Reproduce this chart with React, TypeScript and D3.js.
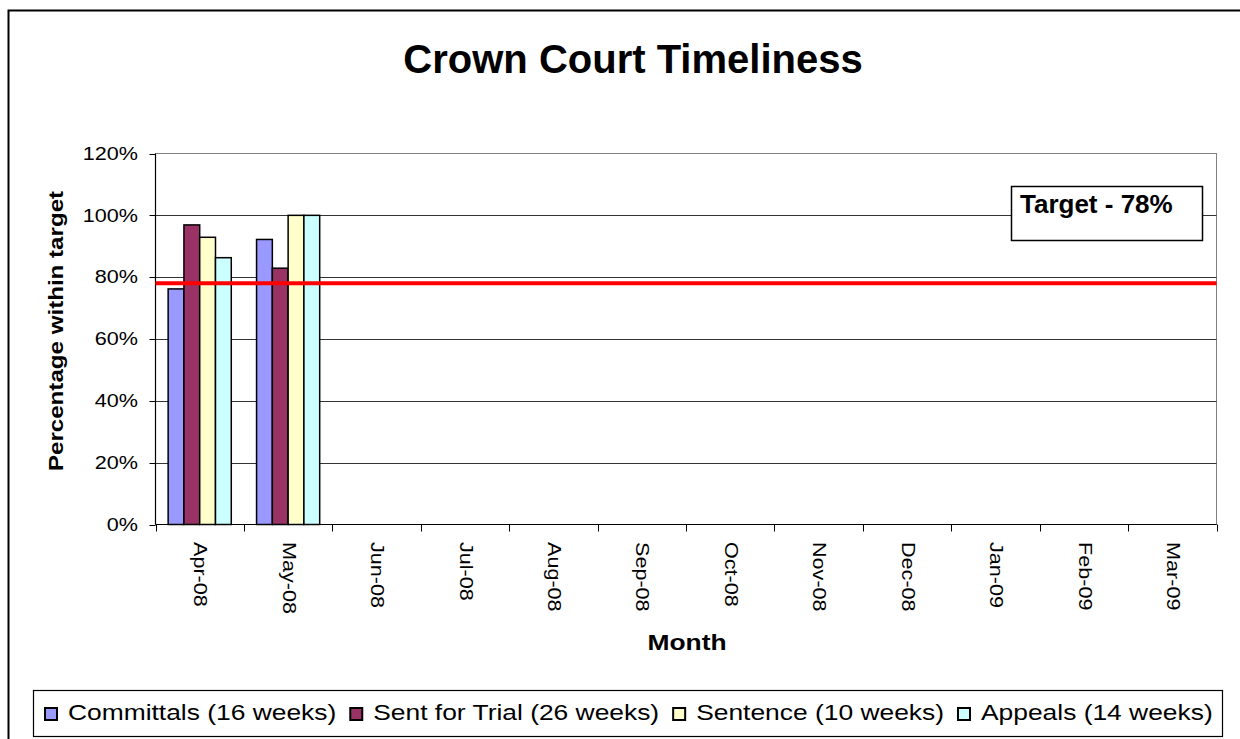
import React, { useEffect, useRef } from "react";
import * as d3 from "d3";

const months = ["Apr-08", "May-08", "Jun-08", "Jul-08", "Aug-08", "Sep-08", "Oct-08", "Nov-08", "Dec-08", "Jan-09", "Feb-09", "Mar-09"];
const seriesNames = ["Committals (16 weeks)", "Sent for Trial (26 weeks)", "Sentence (10 weeks)", "Appeals (14 weeks)"];
const seriesColors = ["#9999FF", "#993366", "#FFFFCC", "#CCFFFF"];
const committals = [0.762, 0.922];
const sentForTrial = [0.969, 0.829];
const sentence = [0.929, 1.0];
const appeals = [0.863, 1.0];
const yTicks = [0, 0.2, 0.4, 0.6, 0.8, 1.0, 1.2];
const target = 0.78;

const App = () => {
  const svgRef = useRef<SVGSVGElement | null>(null);

  useEffect(() => {
    if (!svgRef.current) return;
    const svg = d3.select(svgRef.current);
    svg.selectAll("*").remove();
    const font = "'Liberation Sans', Arial, sans-serif";
    const stretch = 1.2; // the reference text is drawn a bit wide

    svg.append("rect").attr("width", 1240).attr("height", 739).attr("fill", "#fff");
    // outer chart border (right and bottom edges fall outside the picture)
    svg.append("path")
      .attr("d", "M8.5,745 L8.5,10.5 L1245,10.5")
      .attr("fill", "none").attr("stroke", "#000").attr("stroke-width", 2);

    const left = 155.5, right = 1216.5, top = 153.5, bottom = 524.5;
    const x = d3.scaleBand<string>().domain(months).range([left, right]);
    const y = d3.scaleLinear().domain([0, 1.2]).range([bottom, top]);

    const all = [committals, sentForTrial, sentence, appeals];
    const bw = x.bandwidth();
    const inner = d3.scaleBand<number>().domain([0, 1, 2, 3]).range([bw * 0.143, bw * 0.857]);

    // plot border
    svg.append("rect")
      .attr("x", left).attr("y", top).attr("width", right - left).attr("height", bottom - top)
      .attr("fill", "#fff").attr("stroke", "#808080").attr("stroke-width", 1);

    // gridlines
    svg.append("g").selectAll("line").data(yTicks.slice(1, -1)).enter().append("line")
      .attr("x1", left).attr("x2", right)
      .attr("y1", (d) => Math.round(y(d)) + 0.5).attr("y2", (d) => Math.round(y(d)) + 0.5)
      .attr("stroke", "#333").attr("stroke-width", 1);

    // bars
    months.forEach((m, i) => {
      all.forEach((s, k) => {
        if (s[i] === undefined) return;
        svg.append("rect")
          .attr("x", (x(m) as number) + (inner(k) as number))
          .attr("y", y(s[i]))
          .attr("width", inner.bandwidth())
          .attr("height", y(0) - y(s[i]))
          .attr("fill", seriesColors[k])
          .attr("stroke", "#000").attr("stroke-width", 1.5);
      });
    });

    // axis lines
    svg.append("line").attr("x1", left).attr("x2", left).attr("y1", top).attr("y2", bottom)
      .attr("stroke", "#000").attr("stroke-width", 1.2);
    svg.append("line").attr("x1", left).attr("x2", right).attr("y1", bottom).attr("y2", bottom)
      .attr("stroke", "#000").attr("stroke-width", 1.2);

    // y ticks and labels
    const yg = svg.append("g");
    yTicks.forEach((t) => {
      yg.append("line").attr("x1", left - 6).attr("x2", left)
        .attr("y1", Math.round(y(t)) + 0.5).attr("y2", Math.round(y(t)) + 0.5)
        .attr("stroke", "#000");
      yg.append("text")
        .attr("transform", `translate(138,${y(t)}) scale(${stretch},1)`)
        .attr("dy", "0.35em")
        .attr("text-anchor", "end").attr("font-family", font).attr("font-size", 18)
        .text(d3.format(".0%")(t));
    });

    // x ticks and labels
    const xg = svg.append("g");
    const edges = months.map((m) => x(m) as number).concat([right]);
    edges.forEach((e) => {
      xg.append("line").attr("x1", Math.round(e) + 0.5).attr("x2", Math.round(e) + 0.5)
        .attr("y1", bottom).attr("y2", bottom + 7).attr("stroke", "#000");
    });
    months.forEach((m) => {
      const cx = (x(m) as number) + bw / 2;
      xg.append("text")
        .attr("transform", `translate(${cx + 1},542) rotate(90) scale(${stretch},1)`)
        .attr("dy", "0.35em").attr("text-anchor", "start")
        .attr("font-family", font).attr("font-size", 18)
        .text(m);
    });

    // target line
    svg.append("line").attr("x1", left).attr("x2", right)
      .attr("y1", y(target)).attr("y2", y(target))
      .attr("stroke", "#FF0000").attr("stroke-width", 4);

    // target box
    svg.append("rect").attr("x", 1011.5).attr("y", 186.5).attr("width", 191).attr("height", 54)
      .attr("fill", "#fff").attr("stroke", "#000").attr("stroke-width", 1.5);
    svg.append("text").attr("x", 1020).attr("y", 213)
      .attr("font-family", font).attr("font-size", 26).attr("font-weight", "bold")
      .text("Target - 78%");

    // title
    svg.append("text").attr("x", 633).attr("y", 73).attr("text-anchor", "middle")
      .attr("font-family", font).attr("font-size", 40).attr("font-weight", "bold")
      .text("Crown Court Timeliness");

    // axis titles
    svg.append("text").attr("transform", `translate(56,331) rotate(-90) scale(1.15,1)`)
      .attr("text-anchor", "middle").attr("dy", "0.35em")
      .attr("font-family", font).attr("font-size", 21).attr("font-weight", "bold")
      .text("Percentage within target");
    svg.append("text").attr("transform", `translate(687,650) scale(${stretch},1)`)
      .attr("text-anchor", "middle")
      .attr("font-family", font).attr("font-size", 22).attr("font-weight", "bold")
      .text("Month");

    // legend
    svg.append("rect").attr("x", 33.5).attr("y", 690.5).attr("width", 1189).attr("height", 46)
      .attr("fill", "#fff").attr("stroke", "#000").attr("stroke-width", 1.2);
    let lx = 45;
    seriesNames.forEach((name, k) => {
      svg.append("rect").attr("x", lx).attr("y", 708).attr("width", 12).attr("height", 12)
        .attr("fill", seriesColors[k]).attr("stroke", "#000").attr("stroke-width", 2);
      const t = svg.append("text")
        .attr("transform", `translate(${lx + 23},720) scale(${stretch},1)`)
        .attr("font-family", font).attr("font-size", 22)
        .text(name);
      const w = (t.node() as SVGTextElement).getComputedTextLength() * stretch;
      lx = lx + 23 + w + 14;
    });
  }, []);

  return (
    <div style={{ position: "fixed", left: 0, top: 0, width: 1240, height: 739, overflow: "hidden" }}>
      <svg ref={svgRef} width={1240} height={739} style={{ display: "block" }} />
    </div>
  );
};

export default App;
